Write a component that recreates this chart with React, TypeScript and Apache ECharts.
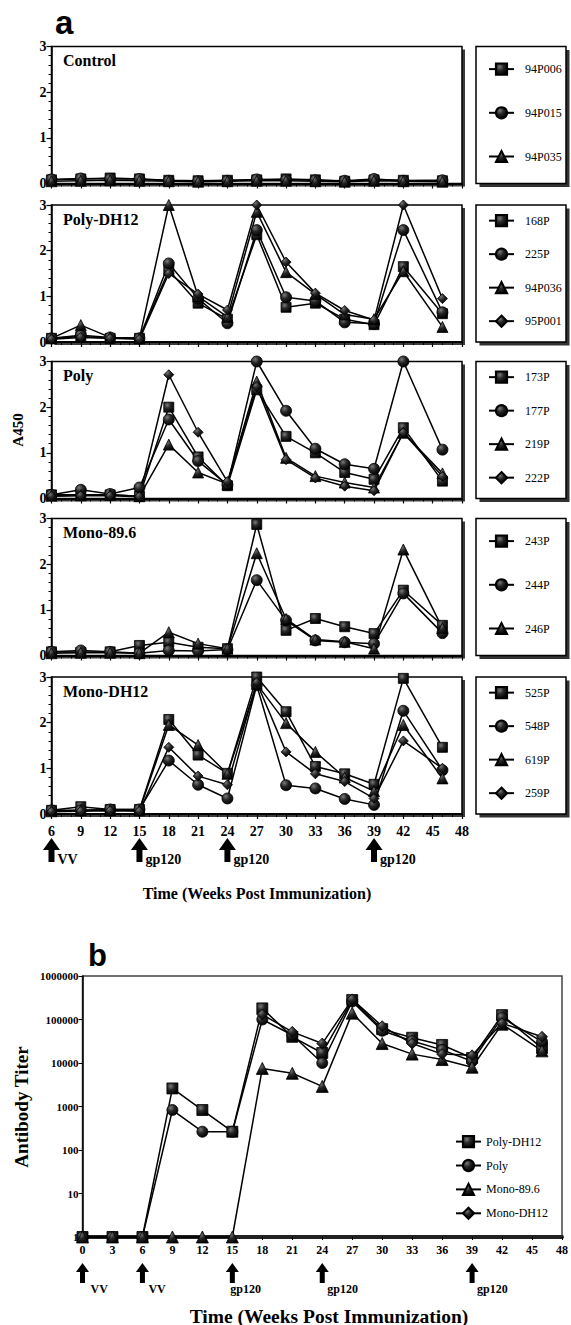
import React, { useEffect, useRef } from "react";
import * as echarts from "echarts";

// ---------- DATA ----------
const WEEKS_A = [6, 9, 12, 15, 18, 21, 24, 27, 30, 33, 36, 39, 42, 46];
const WEEKS_B = [0, 3, 6, 9, 12, 15, 18, 21, 24, 27, 30, 33, 36, 39, 42, 46];
const TICKS_A = [6, 48, 3];
const TICKS_B = [0, 48, 3];

const PANEL_TITLES = ["Control", "Poly-DH12", "Poly", "Mono-89.6", "Mono-DH12"];

const CONTROL_NAMES = ["94P006", "94P015", "94P035"];
const CONTROL_94P006 = [0.08, 0.1, 0.12, 0.1, 0.07, 0.06, 0.07, 0.08, 0.1, 0.08, 0.05, 0.08, 0.07, 0.06];
const CONTROL_94P015 = [0.09, 0.11, 0.1, 0.1, 0.06, 0.05, 0.06, 0.09, 0.08, 0.07, 0.06, 0.1, 0.06, 0.07];
const CONTROL_94P035 = [0.05, 0.06, 0.07, 0.06, 0.05, 0.04, 0.05, 0.06, 0.06, 0.05, 0.04, 0.06, 0.05, 0.04];

const POLYDH12_NAMES = ["168P", "225P", "94P036", "95P001"];
const POLYDH12_168P = [0.08, 0.12, 0.08, 0.08, 1.57, 0.85, 0.5, 2.35, 0.76, 0.85, 0.5, 0.38, 1.65, 0.62];
const POLYDH12_225P = [0.08, 0.15, 0.1, 0.08, 1.72, 0.95, 0.41, 2.45, 0.98, 0.9, 0.43, 0.4, 2.45, 0.65];
const POLYDH12_94P036 = [0.08, 0.37, 0.1, 0.08, 3.0, 1.0, 0.55, 2.85, 1.53, 1.05, 0.6, 0.5, 1.55, 0.33];
const POLYDH12_95P001 = [0.06, 0.1, 0.08, 0.06, 1.5, 1.05, 0.7, 3.0, 1.75, 1.07, 0.69, 0.48, 3.0, 0.95];

const POLY_NAMES = ["173P", "177P", "219P", "222P"];
const POLY_173P = [0.08, 0.08, 0.08, 0.05, 2.0, 0.91, 0.28, 2.38, 1.36, 1.0, 0.57, 0.42, 1.55, 0.38];
const POLY_177P = [0.08, 0.19, 0.1, 0.24, 1.73, 0.82, 0.3, 3.0, 1.92, 1.09, 0.75, 0.65, 3.0, 1.07];
const POLY_219P = [0.06, 0.07, 0.08, 0.05, 1.18, 0.57, 0.32, 2.56, 0.89, 0.49, 0.35, 0.24, 1.44, 0.55];
const POLY_222P = [0.05, 0.06, 0.06, 0.04, 2.71, 1.45, 0.37, 2.45, 0.85, 0.45, 0.27, 0.17, 1.44, 0.48];

const MONO896_NAMES = ["243P", "244P", "246P"];
const MONO896_243P = [0.08, 0.07, 0.08, 0.22, 0.29, 0.18, 0.15, 2.87, 0.55, 0.81, 0.63, 0.48, 1.43, 0.66];
const MONO896_244P = [0.08, 0.11, 0.08, 0.05, 0.11, 0.1, 0.13, 1.65, 0.77, 0.33, 0.29, 0.26, 1.36, 0.49];
const MONO896_246P = [0.05, 0.06, 0.06, 0.05, 0.51, 0.26, 0.15, 2.24, 0.8, 0.35, 0.3, 0.15, 2.32, 0.6];

const MONODH12_NAMES = ["525P", "548P", "619P", "259P"];
const MONODH12_525P = [0.08, 0.16, 0.1, 0.1, 2.07, 1.29, 0.89, 3.0, 2.24, 1.04, 0.88, 0.65, 2.97, 1.46];
const MONODH12_548P = [0.08, 0.08, 0.1, 0.1, 1.17, 0.64, 0.34, 2.82, 0.63, 0.56, 0.33, 0.2, 2.26, 0.96];
const MONODH12_619P = [0.06, 0.08, 0.08, 0.08, 1.95, 1.51, 0.88, 2.85, 1.99, 1.36, 0.8, 0.5, 1.95, 0.78];
const MONODH12_259P = [0.05, 0.06, 0.07, 0.06, 1.46, 0.83, 0.64, 2.88, 1.36, 0.88, 0.71, 0.34, 1.6, 1.0];

const TITER_NAMES = ["Poly-DH12", "Poly", "Mono-89.6", "Mono-DH12"];
const TITER_POLYDH12 = [1, 1, 1, 2600, 830, 263, 180000, 40000, 17000, 280000, 60000, 38000, 26000, 13000, 126000, 22000];
const TITER_POLY = [1, 1, 1, 830, 263, 263, 100000, 44000, 10000, 260000, 55000, 32000, 20000, 11000, 110000, 31000];
const TITER_MONO896 = [1, 1, 1, 1, 1, 1, 7500, 5800, 2900, 140000, 28000, 16000, 12000, 8000, 78000, 19000];
const TITER_MONODH12 = [null, null, null, null, null, null, 130000, 52000, 28000, 290000, 70000, 28000, 16000, 15000, 82000, 40000];

const ARROWS_A = [
  { week: 6, label: "VV" },
  { week: 15, label: "gp120" },
  { week: 24, label: "gp120" },
  { week: 39, label: "gp120" },
];
const ARROWS_B = [
  { week: 0, label: "VV" },
  { week: 6, label: "VV" },
  { week: 15, label: "gp120" },
  { week: 24, label: "gp120" },
  { week: 39, label: "gp120" },
];

const PANEL_VALUES: (number | null)[][][] = [
  [CONTROL_94P006, CONTROL_94P015, CONTROL_94P035],
  [POLYDH12_168P, POLYDH12_225P, POLYDH12_94P036, POLYDH12_95P001],
  [POLY_173P, POLY_177P, POLY_219P, POLY_222P],
  [MONO896_243P, MONO896_244P, MONO896_246P],
  [MONODH12_525P, MONODH12_548P, MONODH12_619P, MONODH12_259P],
];
const PANEL_NAMES = [CONTROL_NAMES, POLYDH12_NAMES, POLY_NAMES, MONO896_NAMES, MONODH12_NAMES];
const TITER_VALUES = [TITER_POLYDH12, TITER_POLY, TITER_MONO896, TITER_MONODH12];

// ---------- STYLE / LAYOUT ----------
const SERIF = "'Liberation Serif', 'Times New Roman', 'DejaVu Serif', serif";
const SANS = "'Liberation Sans', Arial, 'DejaVu Sans', sans-serif";
const SYMBOLS = ["rect", "circle", "triangle", "diamond"];
const SYMBOL_SIZES_A = [10, 11, 11, 10];
const SYMBOL_SIZES_B = [11, 11, 12, 11];

const A_LEFT = 51.5;
const A_WIDTH = 410.5;
const A_TOPS = [46.5, 205, 361.5, 518.5, 677];
const A_HEIGHT = 137;
const LEG_A_X = 476;
const LEG_A_W = 90;

const B_LEFT = 82.5;
const B_TOP = 976;
const B_WIDTH = 488;
const B_HEIGHT = 261;
const LEG_B = { x: 442, y: 1129, w: 115, h: 99 };

const markerFill = {
  type: "radial",
  x: 0.35,
  y: 0.3,
  r: 0.75,
  colorStops: [
    { offset: 0, color: "#7a7a7a" },
    { offset: 0.45, color: "#262626" },
    { offset: 1, color: "#000000" },
  ],
};

function lineSeries(name: string, idx: number, weeks: number[], vals: (number | null)[], k: number, sizes: number[]) {
  return {
    type: "line",
    name,
    xAxisIndex: idx,
    yAxisIndex: idx,
    data: weeks.map((w, j) => [w, vals[j]]).filter((p) => p[1] !== null),
    symbol: SYMBOLS[k],
    symbolSize: sizes[k],
    showAllSymbol: true,
    clip: false,
    z: 3,
    lineStyle: { color: "#000", width: 1.5 },
    itemStyle: { color: markerFill, borderColor: "#000", borderWidth: 0.8 },
    emphasis: { disabled: true },
    silent: true,
  };
}

function buildOption() {
  const grid: any[] = [];
  const xAxis: any[] = [];
  const yAxis: any[] = [];
  const series: any[] = [];
  const legend: any[] = [];

  A_TOPS.forEach((top, i) => {
    grid.push({
      left: A_LEFT,
      top,
      width: A_WIDTH,
      height: A_HEIGHT,
      show: true,
      backgroundColor: "#fff",
      borderColor: "#000",
      borderWidth: 1.5,
    });
    xAxis.push({
      type: "value",
      gridIndex: i,
      min: TICKS_A[0],
      max: TICKS_A[1],
      interval: TICKS_A[2],
      axisLine: { show: true, onZero: false, lineStyle: { color: "#000", width: 2 } },
      axisTick: { show: true, length: 5, lineStyle: { color: "#000", width: 1.2 } },
      minorTick: { show: true, splitNumber: 3, length: 3, lineStyle: { color: "#000", width: 1 } },
      splitLine: { show: false },
      axisLabel: {
        show: i === 4,
        margin: 10,
        fontFamily: SERIF,
        fontWeight: "bold",
        fontSize: 14,
        color: "#000",
        formatter: (v: number) => String(v),
      },
    });
    yAxis.push({
      type: "value",
      gridIndex: i,
      min: 0,
      max: 3,
      interval: 1,
      axisLine: { show: true, lineStyle: { color: "#000", width: 1.5 } },
      axisTick: { show: true, length: 5, lineStyle: { color: "#000", width: 1.2 } },
      minorTick: { show: true, splitNumber: 5, length: 3, lineStyle: { color: "#000", width: 1 } },
      splitLine: { show: false },
      axisLabel: {
        margin: 5,
        fontFamily: SERIF,
        fontWeight: "bold",
        fontSize: 14,
        color: "#000",
      },
    });
    const names = PANEL_NAMES[i];
    names.forEach((n, k) => series.push(lineSeries(n, i, WEEKS_A, PANEL_VALUES[i][k], k, SYMBOL_SIZES_A)));
    const nItems = names.length;
    const gap = nItems === 3 ? 30.5 : 20.3;
    const totalH = nItems * 14 + (nItems - 1) * gap;
    legend.push({
      data: names,
      orient: "vertical",
      left: LEG_A_X + 12,
      top: top + (A_HEIGHT - totalH) / 2 - 1,
      itemWidth: 25,
      itemHeight: 14,
      itemGap: gap,
      padding: 0,
      selectedMode: false,
      formatter: (n: string) => "\u2002" + n,
      textStyle: { fontFamily: SERIF, fontSize: 12, color: "#000000" },
    });
  });

  // panel b
  grid.push({
    left: B_LEFT,
    top: B_TOP,
    width: B_WIDTH,
    height: B_HEIGHT,
    show: true,
    backgroundColor: "#fff",
    borderColor: "#444",
    borderWidth: 1.5,
  });
  xAxis.push({
    type: "value",
    gridIndex: 5,
    min: TICKS_B[0],
    max: TICKS_B[1],
    interval: TICKS_B[2],
    axisLine: { show: true, onZero: false, lineStyle: { color: "#222", width: 4 } },
    axisTick: { show: true, length: 3, lineStyle: { color: "#000", width: 1 } },
    splitLine: { show: false },
    axisLabel: {
      margin: 7,
      fontFamily: SERIF,
      fontWeight: "bold",
      fontSize: 12,
      color: "#000",
      formatter: (v: number) => String(v),
    },
  });
  yAxis.push({
    type: "log",
    gridIndex: 5,
    min: 1,
    max: 1000000,
    logBase: 10,
    axisLine: { show: true, lineStyle: { color: "#000", width: 1.5 } },
    axisTick: { show: true, length: 4, lineStyle: { color: "#000", width: 1 } },
    splitLine: { show: false },
    axisLabel: {
      margin: 4,
      fontFamily: SERIF,
      fontWeight: "bold",
      fontSize: 11,
      color: "#000",
      formatter: (v: number) => String(Math.round(v)),
    },
  });
  TITER_NAMES.forEach((n, k) => series.push(lineSeries(n, 5, WEEKS_B, TITER_VALUES[k], k, SYMBOL_SIZES_B)));
  legend.push({
    data: TITER_NAMES,
    orient: "vertical",
    left: LEG_B.x + 13,
    top: LEG_B.y + 6,
    itemWidth: 25,
    itemHeight: 14,
    itemGap: 10.7,
    padding: 0,
    selectedMode: false,
    textStyle: { fontFamily: SERIF, fontSize: 12, color: "#000000" },
  });

  return {
    animation: false,
    backgroundColor: "#fff",
    grid,
    xAxis,
    yAxis,
    series,
    legend,
  };
}

function buildGraphic(chart: any) {
  const els: any[] = [];
  // panel letters
  els.push({ type: "text", x: 55, y: 22, style: { text: "a", fontFamily: SANS, fontWeight: "bold", fontSize: 33, fill: "#000", verticalAlign: "middle" } });
  els.push({ type: "text", x: 88, y: 955, style: { text: "b", fontFamily: SANS, fontWeight: "bold", fontSize: 31, fill: "#000", verticalAlign: "middle" } });

  A_TOPS.forEach((top, i) => {
    // plot shadow
    els.push({ type: "rect", z: -10, silent: true, shape: { x: A_LEFT + 3, y: top + 3, width: A_WIDTH, height: A_HEIGHT }, style: { fill: "#3c3c3c" } });
    // legend box + shadow
    els.push({ type: "rect", z: -10, silent: true, shape: { x: LEG_A_X + 3.5, y: top + 3.5, width: LEG_A_W, height: A_HEIGHT }, style: { fill: "#333" } });
    els.push({ type: "rect", z: -5, silent: true, shape: { x: LEG_A_X, y: top, width: LEG_A_W, height: A_HEIGHT }, style: { fill: "#fff", stroke: "#000", lineWidth: 1.5 } });
    // title
    els.push({ type: "text", x: 63, y: top + 14, style: { text: PANEL_TITLES[i], fontFamily: SERIF, fontWeight: "bold", fontSize: 16, fill: "#000", verticalAlign: "middle" } });
  });

  // A450 axis title
  els.push({ type: "text", x: 18, y: 430, rotation: Math.PI / 2, style: { text: "A450", fontFamily: SERIF, fontWeight: "bold", fontSize: 15, fill: "#000", align: "center", verticalAlign: "middle" } });

  // arrows panel a
  ARROWS_A.forEach((a) => {
    const x = chart.convertToPixel({ xAxisIndex: 4 }, a.week);
    const t = 838;
    els.push({
      type: "polygon",
      shape: { points: [[x, t], [x + 8.5, t + 12], [x + 3, t + 12], [x + 3, t + 24], [x - 3, t + 24], [x - 3, t + 12], [x - 8.5, t + 12]] },
      style: { fill: "#000" },
    });
    els.push({ type: "text", x: x + 6, y: t + 21, style: { text: a.label, fontFamily: SERIF, fontWeight: "bold", fontSize: 14, fill: "#000", verticalAlign: "middle" } });
  });
  els.push({ type: "text", x: 257, y: 893, style: { text: "Time (Weeks Post Immunization)", fontFamily: SERIF, fontWeight: "bold", fontSize: 16, fill: "#000", align: "center", verticalAlign: "middle" } });

  // panel b
  els.push({ type: "rect", z: -10, silent: true, shape: { x: LEG_B.x + 3, y: LEG_B.y + 3, width: LEG_B.w, height: LEG_B.h }, style: { fill: "#333" } });
  els.push({ type: "rect", z: -5, silent: true, shape: { x: LEG_B.x, y: LEG_B.y, width: LEG_B.w, height: LEG_B.h }, style: { fill: "#fff", stroke: "#000", lineWidth: 1.2 } });
  els.push({ type: "text", x: 21, y: 1107, rotation: Math.PI / 2, style: { text: "Antibody Titer", fontFamily: SERIF, fontWeight: "bold", fontSize: 19, fill: "#000", align: "center", verticalAlign: "middle" } });
  const DX_B = [8, 6, -2, 5, 5];
  ARROWS_B.forEach((a, i) => {
    const x = chart.convertToPixel({ xAxisIndex: 5 }, a.week);
    const t = 1263;
    els.push({
      type: "polygon",
      shape: { points: [[x, t], [x + 6.5, t + 9], [x + 2.5, t + 9], [x + 2.5, t + 20], [x - 2.5, t + 20], [x - 2.5, t + 9], [x - 6.5, t + 9]] },
      style: { fill: "#000" },
    });
    els.push({ type: "text", x: x + DX_B[i], y: 1289, style: { text: a.label, fontFamily: SERIF, fontWeight: "bold", fontSize: 12, fill: "#000", verticalAlign: "middle" } });
  });
  els.push({ type: "text", x: 329, y: 1316, style: { text: "Time (Weeks Post Immunization)", fontFamily: SERIF, fontWeight: "bold", fontSize: 19.5, fill: "#000", align: "center", verticalAlign: "middle" } });

  return els;
}

export default function App() {
  const ref = useRef<HTMLDivElement>(null);
  useEffect(() => {
    if (!ref.current) return;
    const chart = echarts.init(ref.current, undefined, { renderer: "svg", width: 571, height: 1325 });
    chart.setOption(buildOption() as any);
    chart.setOption({ graphic: buildGraphic(chart) } as any);
    return () => chart.dispose();
  }, []);
  return (
    <div
      ref={ref}
      style={{ position: "absolute", left: 0, top: 0, width: 571, height: 1325, background: "#fff" }}
    />
  );
}
